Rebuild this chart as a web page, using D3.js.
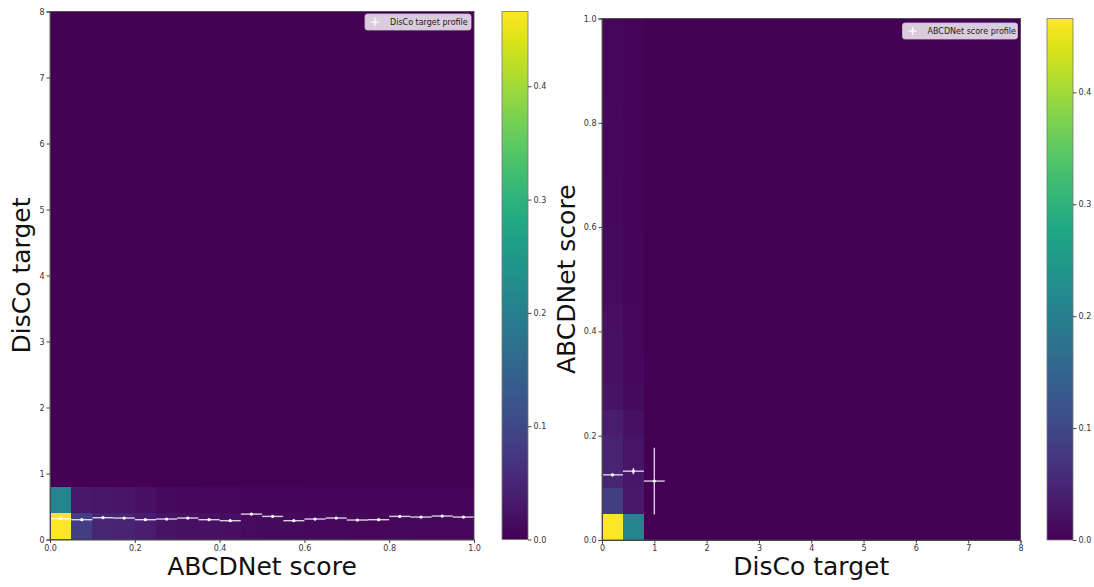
<!DOCTYPE html>
<html>
<head>
<meta charset="utf-8">
<script src="https://cdn.jsdelivr.net/npm/d3@7"></script>
<style>
  body { margin: 0; background: #fff; }
  text { font-family: "DejaVu Sans", sans-serif; }
</style>
</head>
<body>
<div id="my_datavis"></div>
<script>
// ---- data ----
// bin edges
var scoreEdges = [0, 0.05, 0.1, 0.15, 0.2, 0.25, 0.3, 0.35, 0.4, 0.45, 0.5, 0.55, 0.6, 0.65, 0.7, 0.75, 0.8, 0.85, 0.9, 0.95, 1.0];
var discoEdges = [0, 0.4, 0.8, 1.2, 1.6, 2.0, 2.4, 2.8, 3.2, 3.6, 4.0, 4.4, 4.8, 5.2, 5.6, 6.0, 6.4, 6.8, 7.2, 7.6, 8.0];

// 2d histogram density, one row per DisCo bin (only first two are non-zero)
var densDisco0 = [0.466, 0.082, 0.046, 0.044, 0.036, 0.022, 0.020, 0.019, 0.017, 0.014, 0.012, 0.011, 0.010, 0.010, 0.009, 0.009, 0.010, 0.009, 0.008, 0.008];
var densDisco1 = [0.212, 0.030, 0.026, 0.024, 0.020, 0.011, 0.010, 0.009, 0.008, 0.007, 0.006, 0.006, 0.005, 0.005, 0.005, 0.005, 0.005, 0.004, 0.004, 0.004];
var densRows = [densDisco0, densDisco1];

// profile: mean DisCo target per ABCDNet score bin
var discoProfileX = [0.025, 0.075, 0.125, 0.175, 0.225, 0.275, 0.325, 0.375, 0.425, 0.475, 0.525, 0.575, 0.625, 0.675, 0.725, 0.775, 0.825, 0.875, 0.925, 0.975];
var discoProfileY = [0.315, 0.30, 0.33, 0.325, 0.30, 0.31, 0.325, 0.30, 0.285, 0.385, 0.35, 0.285, 0.31, 0.325, 0.295, 0.30, 0.35, 0.34, 0.355, 0.34];
var discoProfileErr = [0.008, 0.012, 0.014, 0.014, 0.012, 0.012, 0.014, 0.012, 0.012, 0.016, 0.014, 0.012, 0.014, 0.014, 0.012, 0.012, 0.016, 0.014, 0.016, 0.014];

// profile: mean ABCDNet score per DisCo target bin
var scoreProfileX = [0.2, 0.6, 1.0];
var scoreProfileY = [0.125, 0.132, 0.113];
var scoreProfileErr = [0.003, 0.006, 0.064];

var colorMax = 0.466;
var cbTicks = [0.0, 0.1, 0.2, 0.3, 0.4];

var svg = d3.select("#my_datavis")
  .append("svg")
  .attr("width", 1094)
  .attr("height", 587);

var color = d3.scaleSequential(d3.interpolateViridis).domain([0, colorMax]);

function density(discoBin, scoreBin) {
  return discoBin < densRows.length ? densRows[discoBin][scoreBin] : 0;
}

// build cell list once (empty cells are covered by the background rect)
var cells = [];
for (var j = 0; j < discoEdges.length - 1; j++) {
  for (var i = 0; i < scoreEdges.length - 1; i++) {
    var v = density(j, i);
    if (v > 0) {
      cells.push({ d0: discoEdges[j], d1: discoEdges[j + 1], s0: scoreEdges[i], s1: scoreEdges[i + 1], v: v });
    }
  }
}

function styleAxis(g) {
  g.selectAll("path").attr("stroke", "#444");
  g.selectAll("line").attr("stroke", "#444");
  g.selectAll("text").style("font-size", "8px").attr("fill", "#333");
}

function drawPanel(opt) {
  var x = d3.scaleLinear().domain(opt.xDomain).range([opt.left, opt.right]);
  var y = d3.scaleLinear().domain(opt.yDomain).range([opt.bottom, opt.top]);
  var g = svg.append("g");

  // background = zero density
  g.append("rect")
    .attr("x", opt.left).attr("y", opt.top)
    .attr("width", opt.right - opt.left).attr("height", opt.bottom - opt.top)
    .attr("fill", color(0));

  // heatmap cells
  g.selectAll("rect.cell")
    .data(cells)
    .enter().append("rect")
    .attr("class", "cell")
    .attr("x", function(d) { return x(opt.cx0(d)); })
    .attr("y", function(d) { return y(opt.cy1(d)); })
    .attr("width", function(d) { return x(opt.cx1(d)) - x(opt.cx0(d)); })
    .attr("height", function(d) { return y(opt.cy0(d)) - y(opt.cy1(d)); })
    .attr("shape-rendering", "crispEdges")
    .attr("fill", function(d) { return color(d.v); });

  // profile error bars
  var prof = g.append("g").attr("stroke", "white").attr("stroke-opacity", 0.8).attr("stroke-width", 1.4);
  opt.px.forEach(function(px, k) {
    prof.append("line")
      .attr("x1", x(px - opt.pxErr)).attr("x2", x(px + opt.pxErr))
      .attr("y1", y(opt.py[k])).attr("y2", y(opt.py[k]));
    prof.append("line")
      .attr("x1", x(px)).attr("x2", x(px))
      .attr("y1", y(opt.py[k] - opt.pyErr[k])).attr("y2", y(opt.py[k] + opt.pyErr[k]));
  });
  g.selectAll("circle.pt")
    .data(opt.px)
    .enter().append("circle")
    .attr("cx", function(d) { return x(d); })
    .attr("cy", function(d, k) { return y(opt.py[k]); })
    .attr("r", 1.6)
    .attr("fill", "white");

  // frame
  g.append("rect")
    .attr("x", opt.left).attr("y", opt.top)
    .attr("width", opt.right - opt.left).attr("height", opt.bottom - opt.top)
    .attr("fill", "none").attr("stroke", "#444").attr("stroke-width", 0.8);

  // axes
  g.append("g")
    .attr("transform", "translate(0," + opt.bottom + ")")
    .call(d3.axisBottom(x).tickValues(opt.xTicks).tickFormat(opt.xFmt).tickSize(3.5).tickPadding(2))
    .call(styleAxis);
  g.append("g")
    .attr("transform", "translate(" + opt.left + ",0)")
    .call(d3.axisLeft(y).tickValues(opt.yTicks).tickFormat(opt.yFmt).tickSize(3.5).tickPadding(2))
    .call(styleAxis);

  // axis titles
  g.append("text")
    .attr("x", (opt.left + opt.right) / 2)
    .attr("y", 575)
    .attr("text-anchor", "middle")
    .style("font-size", "25px")
    .attr("fill", "#111")
    .text(opt.xLabel);
  g.append("text")
    .attr("transform", "translate(" + opt.yLabelX + "," + (opt.top + opt.bottom) / 2 + ") rotate(-90)")
    .attr("text-anchor", "middle")
    .style("font-size", "25px")
    .attr("fill", "#111")
    .text(opt.yLabel);

  // legend
  var lw = opt.legendW, lh = 16;
  var lx = opt.right - 3 - lw, ly = opt.top + opt.legendDy;
  var leg = g.append("g").attr("transform", "translate(" + lx + "," + ly + ")");
  leg.append("rect")
    .attr("width", lw).attr("height", lh).attr("rx", 2.5)
    .attr("fill", "#dacbdd").attr("stroke", "#cfc4d2").attr("stroke-width", 0.8);
  leg.append("line").attr("x1", 6).attr("x2", 14).attr("y1", lh / 2).attr("y2", lh / 2)
    .attr("stroke", "white").attr("stroke-width", 1.2);
  leg.append("line").attr("x1", 10).attr("x2", 10).attr("y1", lh / 2 - 4).attr("y2", lh / 2 + 4)
    .attr("stroke", "white").attr("stroke-width", 1.2);
  leg.append("text")
    .attr("x", 25).attr("y", lh / 2 + 3)
    .style("font-size", "8px").attr("fill", "#222")
    .text(opt.legendText);

  // colorbar
  var cbY = d3.scaleLinear().domain([0, colorMax]).range([opt.bottom, opt.top]);
  var gid = "grad" + opt.id;
  var grad = svg.append("defs").append("linearGradient")
    .attr("id", gid).attr("x1", 0).attr("x2", 0).attr("y1", 1).attr("y2", 0);
  d3.range(0, 1.0001, 0.05).forEach(function(t) {
    grad.append("stop").attr("offset", t).attr("stop-color", d3.interpolateViridis(t));
  });
  g.append("rect")
    .attr("x", opt.cbLeft).attr("y", opt.top)
    .attr("width", 26).attr("height", opt.bottom - opt.top)
    .attr("fill", "url(#" + gid + ")")
    .attr("stroke", "#777").attr("stroke-width", 0.8);
  g.append("g")
    .attr("transform", "translate(" + (opt.cbLeft + 26) + ",0)")
    .call(d3.axisRight(cbY).tickValues(cbTicks).tickFormat(d3.format(".1f")).tickSize(3.5).tickPadding(2))
    .call(function(a) { a.select("path").remove(); })
    .call(styleAxis);
}

// left panel: DisCo target vs ABCDNet score
drawPanel({
  id: "L",
  left: 50, right: 474, top: 11.5, bottom: 539.5,
  xDomain: [0, 1], yDomain: [0, 8],
  cx0: function(d) { return d.s0; }, cx1: function(d) { return d.s1; },
  cy0: function(d) { return d.d0; }, cy1: function(d) { return d.d1; },
  px: discoProfileX, py: discoProfileY, pyErr: discoProfileErr, pxErr: 0.025,
  xTicks: [0, 0.2, 0.4, 0.6, 0.8, 1.0], xFmt: d3.format(".1f"),
  yTicks: [0, 1, 2, 3, 4, 5, 6, 7, 8], yFmt: d3.format("d"),
  xLabel: "ABCDNet score", yLabel: "DisCo target", yLabelX: 30,
  legendText: "DisCo target profile", legendW: 106, legendDy: 2.5,
  cbLeft: 502
});

// right panel: ABCDNet score vs DisCo target
drawPanel({
  id: "R",
  left: 602, right: 1020.5, top: 18.5, bottom: 540,
  xDomain: [0, 8], yDomain: [0, 1],
  cx0: function(d) { return d.d0; }, cx1: function(d) { return d.d1; },
  cy0: function(d) { return d.s0; }, cy1: function(d) { return d.s1; },
  px: scoreProfileX, py: scoreProfileY, pyErr: scoreProfileErr, pxErr: 0.2,
  xTicks: [0, 1, 2, 3, 4, 5, 6, 7, 8], xFmt: d3.format("d"),
  yTicks: [0, 0.2, 0.4, 0.6, 0.8, 1.0], yFmt: d3.format(".1f"),
  xLabel: "DisCo target", yLabel: "ABCDNet score", yLabelX: 575,
  legendText: "ABCDNet score profile", legendW: 115, legendDy: 4.5,
  cbLeft: 1047
});
</script>
</body>
</html>
